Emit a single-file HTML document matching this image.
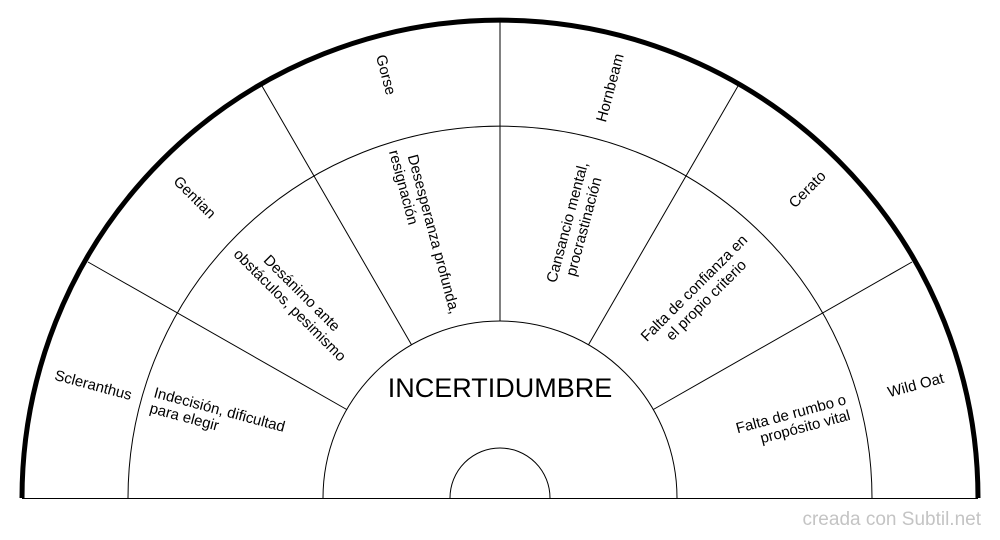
<!DOCTYPE html>
<html><head><meta charset="utf-8"><style>
html,body{margin:0;padding:0;background:#fff;}
svg{display:block;}
text{font-family:"Liberation Sans",sans-serif;fill:#000;}
</style></head><body>
<svg width="1000" height="540" viewBox="0 0 1000 540" xmlns="http://www.w3.org/2000/svg">
<rect width="1000" height="540" fill="#fff"/>
<g fill="none" stroke="#000" stroke-width="1">
<line x1="22" y1="498.5" x2="978" y2="498.5"/>
<path d="M128 498 A372 372 0 0 1 872 498"/>
<path d="M323 498 A177 177 0 0 1 677 498"/>
<path d="M450 498 A50 50 0 0 1 550 498"/>
<line x1="346.7" y1="409.5" x2="88" y2="262"/>
<line x1="411.5" y1="344.7" x2="262" y2="86"/>
<line x1="500" y1="321" x2="500" y2="22"/>
<line x1="588.5" y1="344.7" x2="738" y2="86"/>
<line x1="653.3" y1="409.5" x2="912" y2="262"/>
</g>
<path d="M22 498 A478 478 0 0 1 978 498" fill="none" stroke="#000" stroke-width="5"/>
<g font-size="15" text-anchor="middle">
<text transform="translate(93,386) rotate(15)" dominant-baseline="middle">Scleranthus</text>
<text transform="translate(194,198) rotate(45)" dominant-baseline="middle">Gentian</text>
<text transform="translate(385,75) rotate(75)" dominant-baseline="middle">Gorse</text>
<text transform="translate(611,88) rotate(-75)" dominant-baseline="middle">Hornbeam</text>
<text transform="translate(808,190) rotate(-45)" dominant-baseline="middle">Cerato</text>
<text transform="translate(916,386) rotate(-15)" dominant-baseline="middle">Wild Oat</text>

<text text-anchor="start" transform="translate(153,397) rotate(15)"><tspan x="0" y="0">Indecisión, dificultad</tspan><tspan x="0" y="16">para elegir</tspan></text>
<text transform="translate(297,298) rotate(45)"><tspan x="0" y="-2">Desánimo ante</tspan><tspan x="0" y="15">obstáculos, pesimismo</tspan></text>
<text transform="translate(427,236) rotate(75)"><tspan x="0" y="-2">Desesperanza profunda,</tspan><tspan x="-53" y="15">resignación</tspan></text>
<text transform="translate(574,224) rotate(-75)"><tspan x="0" y="-2">Cansancio mental,</tspan><tspan x="0" y="15">procrastinación</tspan></text>
<text transform="translate(699,293) rotate(-45)"><tspan x="0" y="-2">Falta de confianza en</tspan><tspan x="0" y="15">el propio criterio</tspan></text>
<text text-anchor="end" transform="translate(847,404) rotate(-15)"><tspan x="0" y="0">Falta de rumbo o</tspan><tspan x="0" y="16">propósito vital</tspan></text>
</g>
<text x="500" y="397" font-size="27" text-anchor="middle">INCERTIDUMBRE</text>
<text x="981" y="525" font-size="19" text-anchor="end" style="fill:#c4c4c4">creada con Subtil.net</text>
</svg>
</body></html>
